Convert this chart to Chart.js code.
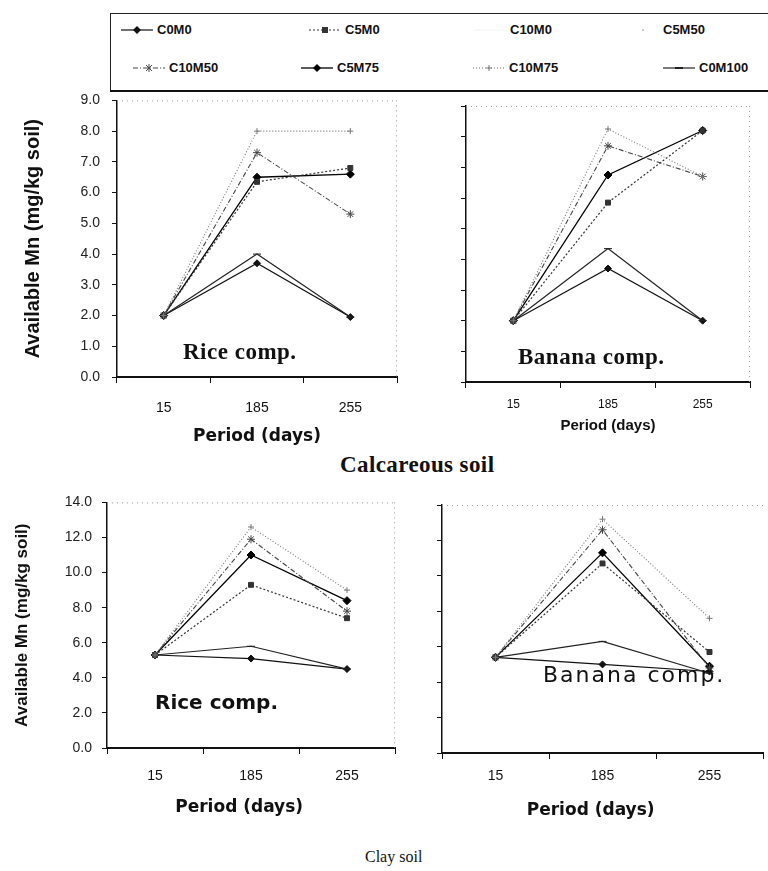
<!DOCTYPE html>
<html>
<head>
<meta charset="utf-8">
<script src="https://cdn.jsdelivr.net/npm/chart.js@4.4.1/dist/chart.umd.min.js"></script>
<style>
  body { margin: 0; background: #fff; }
  #page { position: relative; width: 768px; height: 871px; overflow: hidden; font-family: "Liberation Sans", Arial, sans-serif; color: #111; }
  canvas { position: absolute; }
  .txt { position: absolute; white-space: nowrap; line-height: 1; }
  .serif { font-family: "Liberation Serif", "Times New Roman", serif; font-weight: bold; }
  .wide { font-family: "DejaVu Sans", Verdana, sans-serif; }
  #legend { position: absolute; left: 110px; top: 13px; width: 680px; height: 76px; border: 1px solid #222; border-bottom: 2px solid #111; }
  .item { position: absolute; display: flex; align-items: center; font-size: 13px; font-weight: bold; }
  .item svg { margin-right: 4px; }
</style>
</head>
<body>
<div id="page">
  <div id="legend"></div>

  <canvas id="calcRice" width="402" height="372" style="left:0;top:80px"></canvas>
  <canvas id="calcBanana" width="366" height="360" style="left:402px;top:92px"></canvas>
  <canvas id="clayRice" width="402" height="341" style="left:0;top:484px"></canvas>
  <canvas id="clayBanana" width="366" height="335" style="left:402px;top:490px"></canvas>

  <div class="txt serif" style="left:183px;top:340px;font-size:23px;letter-spacing:0.5px">Rice comp.</div>
  <div class="txt serif" style="left:518px;top:345px;font-size:23px;letter-spacing:0.5px">Banana comp.</div>
  <div class="txt serif" style="left:340px;top:453px;font-size:23px;letter-spacing:0.4px">Calcareous soil</div>
  <div class="txt wide" style="left:155px;top:692px;font-size:20px;font-weight:bold">Rice comp.</div>
  <div class="txt wide" style="left:543px;top:664px;font-size:22px;letter-spacing:2px">Banana comp.</div>
  <div class="txt" style="left:365px;top:849px;font-size:16px;font-family:'Liberation Serif',serif">Clay soil</div>
</div>

<script>
// x categories (days)
const periods = ['15', '185', '255'];
const seriesNames = ['C0M0', 'C5M0', 'C10M0', 'C5M50', 'C10M50', 'C5M75', 'C10M75', 'C0M100'];

// Calcareous soil, rice compost (mg/kg soil)
const calcRiceC0M0 = [2.0, 3.7, 1.95];
const calcRiceC5M0 = [2.0, 6.35, 6.8];
const calcRiceC10M50 = [2.0, 7.3, 5.3];
const calcRiceC5M75 = [2.0, 6.5, 6.6];
const calcRiceC10M75 = [2.0, 8.0, 8.0];
const calcRiceC0M100 = [2.0, 4.0, 1.95];

// Calcareous soil, banana compost
const calcBananaC0M0 = [2.0, 3.7, 2.0];
const calcBananaC5M0 = [2.0, 5.85, 8.2];
const calcBananaC10M50 = [2.0, 7.7, 6.7];
const calcBananaC5M75 = [2.0, 6.75, 8.2];
const calcBananaC10M75 = [2.0, 8.25, 6.7];
const calcBananaC0M100 = [2.0, 4.35, 2.0];

// Clay soil, rice compost
const clayRiceC0M0 = [5.3, 5.1, 4.5];
const clayRiceC5M0 = [5.3, 9.3, 7.4];
const clayRiceC10M50 = [5.3, 11.9, 7.8];
const clayRiceC5M75 = [5.3, 11.0, 8.4];
const clayRiceC10M75 = [5.3, 12.6, 9.0];
const clayRiceC0M100 = [5.3, 5.8, 4.5];

// Clay soil, banana compost
const clayBananaC0M0 = [5.4, 5.0, 4.6];
const clayBananaC5M0 = [5.4, 10.7, 5.7];
const clayBananaC10M50 = [5.4, 12.6, 4.8];
const clayBananaC5M75 = [5.4, 11.3, 4.9];
const clayBananaC10M75 = [5.4, 13.2, 7.6];
const clayBananaC0M100 = [5.4, 6.3, 4.5];

// y axis ranges
const calcMax = 9, calcStep = 1;
const clayMax = 14, clayStep = 2;

// how each treatment is drawn (scan is black and white)
const seriesStyles = {
  C0M0: { color: '#111', dash: [], width: 1.2, point: 'rectRot', radius: 3.5 },
  C5M0: { color: '#333', dash: [2, 2], width: 1.2, point: 'rect', radius: 3.5 },
  C10M0: { color: '#f2f2f2', dash: [], width: 1, point: false, radius: 0 },
  C5M50: { color: '#bbb', dash: [], width: 0, point: 'circle', radius: 1 },
  C10M50: { color: '#444', dash: [5, 2, 1, 2], width: 1.1, point: 'star', radius: 4 },
  C5M75: { color: '#000', dash: [], width: 1.3, point: 'rectRot', radius: 4 },
  C10M75: { color: '#777', dash: [1, 2], width: 1.1, point: 'cross', radius: 3 },
  C0M100: { color: '#222', dash: [], width: 1.2, point: 'line', radius: 4 }
};

function lineStyle(name) {
  const s = seriesStyles[name];
  return {
    borderColor: s.color,
    backgroundColor: s.color,
    borderWidth: s.width,
    borderDash: s.dash,
    pointStyle: s.point,
    pointRadius: s.radius,
    pointBorderColor: s.color,
    pointBackgroundColor: s.color,
    pointBorderWidth: 1,
    tension: 0
  };
}

function buildSets(c0m0, c5m0, c10m50, c5m75, c10m75, c0m100) {
  const list = [
    ['C10M75', c10m75], ['C10M50', c10m50], ['C5M0', c5m0],
    ['C5M75', c5m75], ['C0M100', c0m100], ['C0M0', c0m0]
  ];
  return list.map(([name, values]) => ({ label: name, data: values, ...lineStyle(name) }));
}

// dotted top / right frame of each plot
const dottedFrame = {
  id: 'dottedFrame',
  beforeDatasetsDraw(chart, args, opts) {
    const { ctx, chartArea: a } = chart;
    ctx.save();
    ctx.strokeStyle = '#999';
    ctx.lineWidth = 1;
    ctx.setLineDash([1, 4]);
    ctx.beginPath();
    ctx.moveTo(a.left, a.top + 0.5);
    ctx.lineTo(a.right, a.top + 0.5);
    if (opts.right) {
      ctx.moveTo(a.right - 0.5, a.top);
      ctx.lineTo(a.right - 0.5, a.bottom);
    }
    ctx.stroke();
    ctx.restore();
  }
};

function makeChart(id, datasets, cfg) {
  return new Chart(document.getElementById(id), {
    type: 'line',
    data: { labels: periods, datasets },
    options: {
      responsive: false,
      animation: false,
      layout: { padding: { top: cfg.padTop, right: cfg.padRight, left: 0, bottom: 0 } },
      plugins: {
        legend: { display: false },
        tooltip: { enabled: false },
        dottedFrame: { right: cfg.rightDots }
      },
      scales: {
        x: {
          offset: true,
          grid: { offset: true, drawOnChartArea: false, tickLength: 6, color: '#111' },
          border: { color: '#111', width: 2 },
          ticks: { color: '#111', padding: cfg.xTickPad, font: { family: 'Liberation Sans', size: cfg.xTickSize } },
          title: {
            display: true, text: cfg.xTitle, color: '#111',
            font: { family: cfg.xTitleFamily, size: cfg.xTitleSize, weight: 'bold' },
            padding: { top: 0, bottom: cfg.xTitlePad }
          },
          afterFit: scale => { scale.height = cfg.xHeight; }
        },
        y: {
          min: 0, max: cfg.yMax,
          grid: { drawOnChartArea: false, tickLength: 5, color: '#111' },
          border: { color: '#111', width: 1.5 },
          ticks: {
            display: cfg.showY, stepSize: cfg.yStep, color: '#222', padding: cfg.yTickPad,
            font: { family: 'Liberation Sans', size: 14 },
            callback: v => v.toFixed(1)
          },
          title: {
            display: cfg.showY, text: 'Available Mn (mg/kg soil)', color: '#111',
            font: { family: 'Liberation Sans', size: cfg.yTitleSize, weight: 'bold' },
            padding: { top: cfg.yTitlePad, bottom: 0 }
          },
          afterFit: scale => { scale.width = cfg.yWidth; }
        }
      }
    },
    plugins: [dottedFrame]
  });
}

// bottom titles sit a little left of the plot centre in the scan
const xTitle = 'Period (days)';
const xTitleLeftish = 'Period (days)\u00a0\u00a0\u00a0\u00a0';

makeChart('calcRice',
  buildSets(calcRiceC0M0, calcRiceC5M0, calcRiceC10M50, calcRiceC5M75, calcRiceC10M75, calcRiceC0M100),
  { padTop: 0, padRight: 1, yWidth: 117, xHeight: 75, yMax: calcMax, yStep: calcStep, showY: true,
    yTickPad: 12, yTitleSize: 20, yTitlePad: 21, xTickPad: 17, xTickSize: 14, xTitle,
    xTitleFamily: 'DejaVu Sans', xTitleSize: 17, xTitlePad: 5, rightDots: true });

makeChart('calcBanana',
  buildSets(calcBananaC0M0, calcBananaC5M0, calcBananaC10M50, calcBananaC5M75, calcBananaC10M75, calcBananaC0M100),
  { padTop: 14, padRight: 18, yWidth: 64, xHeight: 70, yMax: calcMax, yStep: calcStep, showY: false,
    yTickPad: 0, yTitleSize: 12, yTitlePad: 0, xTickPad: 9, xTickSize: 12, xTitle,
    xTitleFamily: 'Liberation Sans', xTitleSize: 15, xTitlePad: 17, rightDots: true });

makeChart('clayRice',
  buildSets(clayRiceC0M0, clayRiceC5M0, clayRiceC10M50, clayRiceC5M75, clayRiceC10M75, clayRiceC0M100),
  { padTop: 0, padRight: 7, yWidth: 107, xHeight: 77, yMax: clayMax, yStep: clayStep, showY: true,
    yTickPad: 10, yTitleSize: 17, yTitlePad: 12, xTickPad: 14, xTickSize: 14, xTitle: xTitleLeftish,
    xTitleFamily: 'DejaVu Sans', xTitleSize: 17, xTitlePad: 7, rightDots: true });

makeChart('clayBanana',
  buildSets(clayBananaC0M0, clayBananaC5M0, clayBananaC10M50, clayBananaC5M75, clayBananaC10M75, clayBananaC0M100),
  { padTop: 15, padRight: 0, yWidth: 40, xHeight: 72, yMax: clayMax, yStep: clayStep, showY: false,
    yTickPad: 0, yTitleSize: 12, yTitlePad: 0, xTickPad: 9, xTickSize: 14, xTitle: xTitleLeftish,
    xTitleFamily: 'DejaVu Sans', xTitleSize: 17, xTitlePad: 4, rightDots: false });

// legend: 4 columns x 2 rows, built from the series list
function markerSvg(s) {
  const c = s.color;
  let m = '';
  if (s.point === 'rectRot') m = `<polygon points="16,3 20,7 16,11 12,7" fill="${c}"/>`;
  if (s.point === 'rect') m = `<rect x="13" y="4" width="6" height="6" fill="${c}"/>`;
  if (s.point === 'star') m = `<path d="M13,4 L19,10 M19,4 L13,10 M16,3 L16,11" stroke="${c}" stroke-width="1"/>`;
  if (s.point === 'cross') m = `<path d="M13,7 L19,7 M16,4 L16,10" stroke="${c}" stroke-width="1"/>`;
  if (s.point === 'line') m = `<path d="M12,7 L20,7" stroke="${c}" stroke-width="2"/>`;
  if (s.point === 'circle') m = `<circle cx="16" cy="7" r="1" fill="${c}"/>`;
  const line = s.width > 0
    ? `<line x1="0" y1="7" x2="32" y2="7" stroke="${c}" stroke-width="${s.width}" stroke-dasharray="${s.dash.join(' ')}"/>`
    : '';
  return `<svg width="32" height="14">${line}${m}</svg>`;
}

const legendBox = document.getElementById('legend');
// left edge of each entry's sample line, inside the box
const itemX = [10, 198, 363, 516, 22, 190, 362, 552];
const rowY = [8, 46];
seriesNames.forEach((name, i) => {
  const el = document.createElement('div');
  el.className = 'item';
  el.style.left = itemX[i] + 'px';
  el.style.top = rowY[Math.floor(i / 4)] + 'px';
  el.innerHTML = markerSvg(seriesStyles[name]) + '<span>' + name + '</span>';
  legendBox.appendChild(el);
});
</script>
</body>
</html>
